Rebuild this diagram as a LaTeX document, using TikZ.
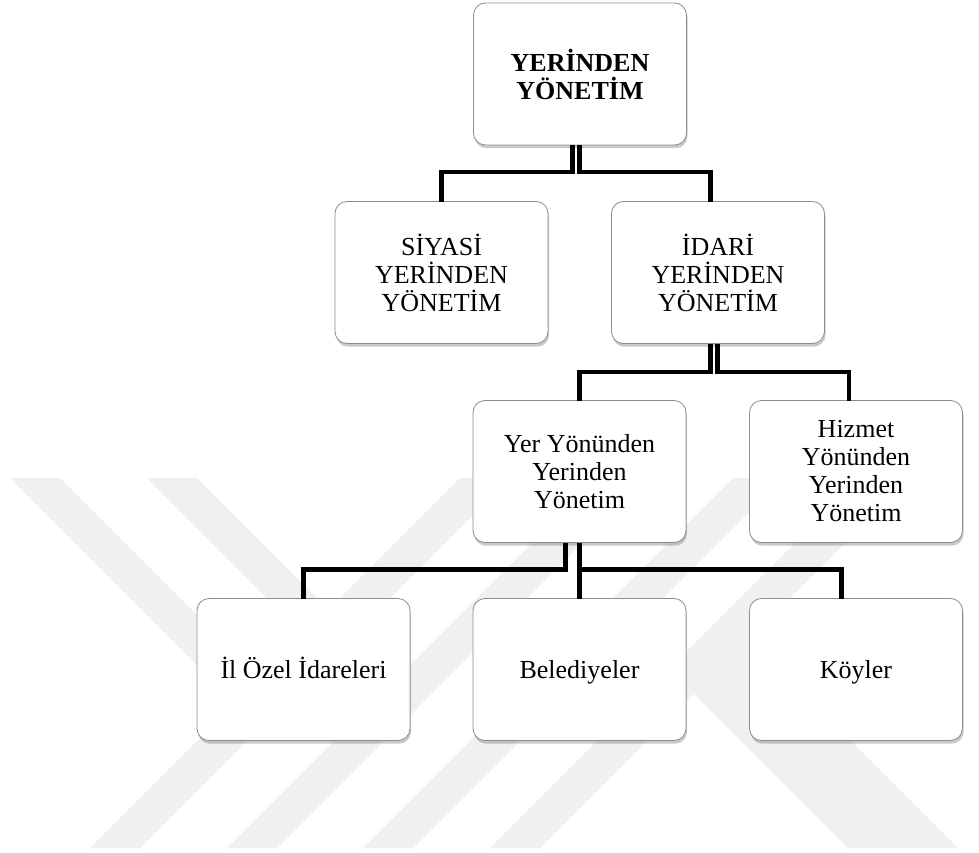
\documentclass[tikz,border=0pt]{standalone}
\usepackage{fontspec}
\setmainfont{Liberation Serif}
\usetikzlibrary{shadows,calc}
\tikzset{
  box/.style={draw=black!45, line width=0.6pt, fill=white, rounded corners=9pt,
    minimum width=159.75pt, minimum height=106.5pt, inner sep=0pt, outer sep=0pt,
    align=center, font=\fontsize{19.5}{21}\selectfont,
    drop shadow={shadow xshift=0.8pt, shadow yshift=-2.4pt, fill=black!60, opacity=0.35}},
  oneline/.style={text height=15pt, text depth=2.2pt},
  conn/.style={line width=3.7pt, draw=black},
  wm/.style={fill=black!6}
}
\begin{document}
\begin{tikzpicture}[x=0.75pt,y=-0.75pt]
\useasboundingbox (0,0) rectangle (979,853);
\fill[white] (0,0) rectangle (979,853);
% watermark bands
\fill[wm] (90,848) -- (140,848) -- (510,478) -- (460,478) -- cycle;
\fill[wm] (227,848) -- (277,848) -- (647,478) -- (597,478) -- cycle;
\fill[wm] (363,848) -- (413,848) -- (783,478) -- (733,478) -- cycle;
\fill[wm] (490,848) -- (540,848) -- (910,478) -- (860,478) -- cycle;
\fill[wm] (10,478) -- (60,478) -- (272.5,690.5) -- (247.5,715.5) -- cycle;
\fill[wm] (147,478) -- (197,478) -- (409.5,690.5) -- (384.5,715.5) -- cycle;
\fill[wm] (681.5,681.5) -- (736.5,626.5) -- (958,848) -- (848,848) -- cycle;
% boxes
\node[box, font=\fontsize{19.5}{21}\selectfont\bfseries] (top) at (580,74) {YERİNDEN\\YÖNETİM};
\node[box] (siy) at (441.5,272.5) {SİYASİ\\YERİNDEN\\YÖNETİM};
\node[box] (ida) at (718,272.5) {İDARİ\\YERİNDEN\\YÖNETİM};
\node[box] (yer) at (579.5,471.5) {Yer Yönünden\\Yerinden\\Yönetim};
\node[box] (hiz) at (856,471.5) {Hizmet\\Yönünden\\Yerinden\\Yönetim};
\node[box, oneline] (il) at (303.5,669.5) {İl Özel İdareleri};
\node[box, oneline] (bel) at (579.5,669.5) {Belediyeler};
\node[box, oneline] (koy) at (856,669.5) {Köyler};
% connectors
\draw[conn] ($(top.south)+(-7.5,0)$) -- ++(0,27) -| (siy.north);
\draw[conn] ($(top.south)+(-0.5,0)$) -- ++(0,27) -| ($(ida.north)+(-7.5,0)$);
\draw[conn] ($(ida.south)+(-7.5,0)$) -- ++(0,28.5) -| (yer.north);
\draw[conn] ($(ida.south)+(-0.5,0)$) -- ++(0,28.5) -| ($(hiz.north)+(-7,0)$);
\draw[conn] ($(yer.south)+(-14,0)$) -- ++(0,27) -| (il.north);
\draw[conn] (yer.south) -- (bel.north);
\draw[conn] (yer.south) -- ++(0,27) -| ($(koy.north)+(-14.5,0)$);
\end{tikzpicture}
\end{document}
